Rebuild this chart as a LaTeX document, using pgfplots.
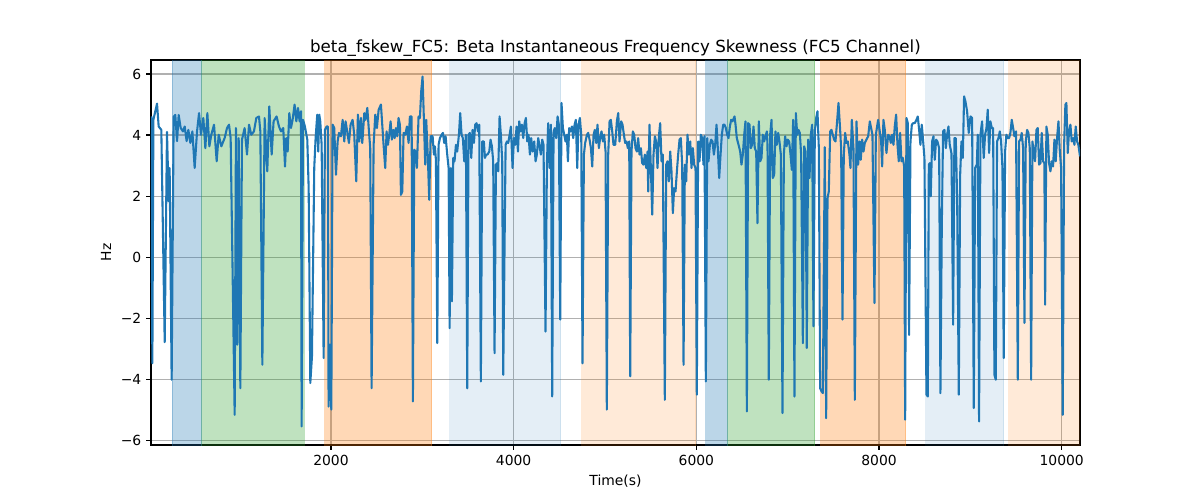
\documentclass[border=0pt]{standalone}
\usepackage{pgfplots}
\pgfplotsset{compat=1.18}
\usepackage{pgfplotstable}
\usepackage{fontspec}
\setmainfont{DejaVu Sans}
\definecolor{tabblue}{RGB}{31,119,180}
\definecolor{tabgreen}{RGB}{44,160,44}
\definecolor{taborange}{RGB}{255,127,14}
\definecolor{gridgray}{RGB}{176,176,176}
\pgfplotstableread{
x y
34 4.61
45 -3.48
56 4.5
96 5.03
114 4.28
143 4.17
180 -2.79
205 4.1
224 1.83
234 2.92
256 -4.02
278 4.6
296 4.66
315 3.8
333 4.66
355 4.23
380 4.12
399 4.28
420 3.8
439 4.17
461 3.74
483 4.12
508 2.92
534 4.12
556 4.72
577 4.01
603 4.56
625 3.57
647 4.72
669 3.63
690 4.01
720 4.34
749 3.14
771 4.01
800 3.63
836 3.9
862 4.23
884 4.34
902 3.9
946 -5.17
960 4.23
975 -2.87
990 3.9
1008 -4.3
1026 3.85
1055 4.23
1081 3.36
1103 4.34
1128 4.01
1157 4.12
1183 4.56
1212 4.61
1227 4.12
1249 -3.53
1274 4.56
1303 2.81
1325 4.94
1351 3.36
1372 4.45
1405 4.61
1431 4.28
1453 4.12
1478 4.23
1497 2.97
1511 3.9
1526 3.46
1544 4.72
1562 4.23
1580 4.5
1602 5.0
1621 4.45
1639 4.89
1657 4.45
1672 4.78
1679 -5.55
1694 4.5
1715 4.28
1741 3.85
1756 2.26
1774 -4.13
1792 -3.26
1817 2.92
1832 3.9
1850 4.67
1861 3.46
1872 4.67
1883 4.45
1898 3.68
1920 -3.31
1934 4.17
1953 4.28
1967 4.28
1974 -4.9
1989 -2.87
2004 -5.0
2018 4.34
2036 4.23
2055 2.7
2073 3.79
2088 4.07
2109 3.96
2128 4.5
2146 3.79
2160 4.45
2175 4.17
2197 3.74
2215 4.34
2237 4.5
2255 4.01
2277 2.48
2295 4.67
2310 3.79
2328 4.56
2343 3.74
2365 4.72
2379 4.5
2398 4.89
2416 4.12
2430 3.57
2445 -4.3
2467 3.68
2485 4.67
2503 4.23
2522 4.83
2547 5.0
2576 3.68
2594 2.92
2609 4.12
2624 3.68
2638 4.01
2653 4.45
2667 3.85
2682 4.17
2697 3.9
2711 4.23
2726 3.96
2740 4.56
2755 4.34
2766 2.04
2781 2.15
2795 4.07
2813 4.01
2832 4.28
2850 3.74
2864 4.61
2883 4.61
2897 -4.73
2912 3.52
2926 3.46
2941 2.92
2959 4.61
2974 4.56
2988 5.43
3003 5.92
3018 4.45
3032 3.03
3043 4.5
3061 3.25
3076 1.88
3091 3.96
3113 3.96
3127 3.36
3138 3.63
3149 3.19
3164 -2.82
3178 3.68
3193 3.9
3211 4.01
3226 4.07
3240 3.74
3255 3.96
3273 3.36
3288 2.92
3299 -2.33
3313 2.92
3324 -1.45
3339 3.25
3353 3.14
3368 3.68
3382 3.46
3401 4.01
3415 4.72
3430 4.01
3444 3.9
3459 3.14
3477 4.01
3492 -4.3
3506 4.01
3521 4.07
3536 3.25
3550 4.17
3565 3.74
3579 4.34
3594 4.39
3609 4.12
3623 4.34
3641 -4.08
3656 3.79
3674 3.79
3685 3.25
3700 3.36
3714 3.36
3733 3.46
3747 3.85
3762 3.63
3776 3.14
3791 -3.15
3806 3.03
3820 3.08
3831 2.81
3846 4.61
3860 4.01
3875 3.14
3886 -3.86
3912 3.68
3926 3.79
3941 3.74
3959 4.07
3970 4.28
3988 2.92
4003 3.9
4017 3.68
4032 4.28
4047 3.46
4061 4.45
4076 4.12
4090 4.34
4105 3.9
4120 4.39
4134 4.56
4149 3.79
4163 4.01
4178 3.36
4192 3.9
4207 3.46
4225 3.79
4240 3.14
4254 3.36
4269 3.9
4284 3.63
4298 3.36
4313 3.85
4327 3.68
4349 -2.44
4364 3.03
4378 4.39
4393 2.92
4408 4.34
4422 -4.57
4437 4.12
4451 4.23
4466 3.9
4481 4.61
4495 4.34
4510 -2.05
4524 5.05
4539 4.23
4554 4.01
4568 3.79
4583 4.01
4594 3.14
4608 4.23
4623 4.12
4638 4.28
4652 3.9
4667 4.34
4681 4.5
4696 2.92
4710 4.34
4725 4.56
4740 4.01
4754 -3.48
4769 3.36
4783 3.74
4802 4.01
4816 4.07
4831 3.85
4846 3.57
4860 2.97
4875 4.01
4889 4.17
4904 3.74
4918 4.34
4933 3.57
4947 3.9
4962 4.12
4977 3.79
4991 4.01
5006 3.46
5020 -5.0
5035 3.36
5050 4.45
5064 4.5
5079 4.12
5093 3.68
5112 3.68
5130 4.45
5145 4.72
5159 3.79
5177 4.45
5192 4.34
5207 4.01
5221 3.74
5236 3.79
5250 3.57
5265 3.79
5276 -3.91
5290 3.46
5305 4.12
5320 4.01
5334 3.57
5349 3.46
5363 3.9
5378 3.36
5393 3.57
5407 3.08
5422 3.03
5436 3.36
5451 2.92
5466 3.46
5473 2.15
5487 4.34
5502 2.92
5517 1.39
5531 3.36
5546 3.96
5560 3.79
5575 2.92
5590 3.96
5604 4.39
5619 3.14
5633 3.36
5655 -4.68
5670 3.03
5684 3.14
5699 2.48
5714 3.46
5728 2.81
5743 1.44
5757 2.26
5772 2.15
5787 2.81
5801 3.36
5816 3.85
5830 3.9
5845 3.03
5860 -3.53
5874 3.03
5889 2.48
5903 4.01
5918 3.36
5933 3.79
5947 2.92
5962 3.57
5976 3.03
5991 2.92
6005 -4.51
6020 3.79
6035 3.14
6049 4.01
6064 3.9
6078 3.03
6089 3.96
6104 -4.08
6119 3.9
6133 3.14
6148 3.68
6162 3.85
6177 3.79
6192 3.36
6206 3.68
6221 4.34
6235 3.57
6250 2.59
6265 3.36
6279 4.01
6294 4.34
6308 4.34
6323 4.23
6338 4.01
6352 3.9
6367 4.28
6381 4.5
6396 4.45
6418 4.61
6429 4.34
6443 3.9
6462 3.68
6480 3.46
6494 3.03
6509 3.36
6524 4.01
6538 4.45
6553 -5.06
6567 4.39
6582 4.34
6596 3.57
6611 3.68
6626 4.28
6640 3.57
6655 3.46
6669 1.11
6684 4.45
6699 3.14
6713 3.25
6728 4.01
6742 3.79
6757 3.96
6772 4.12
6779 3.68
6793 -4.02
6808 4.01
6823 4.5
6837 2.59
6852 2.7
6866 4.12
6881 3.68
6896 4.07
6910 3.79
6925 3.36
6943 -5.11
6958 3.36
6972 3.96
6987 3.63
7001 3.85
7016 3.79
7031 3.36
7045 2.86
7060 4.5
7074 -4.57
7089 4.72
7104 4.01
7118 4.17
7133 4.07
7147 3.36
7166 -2.82
7180 3.63
7195 3.46
7209 -2.98
7224 3.85
7239 2.59
7253 4.01
7268 4.34
7282 -2.27
7297 4.12
7312 4.56
7326 4.78
7341 3.57
7355 -4.3
7370 -4.4
7385 -4.46
7406 3.6
7421 -5.28
7436 1.93
7450 2.15
7465 4.12
7479 4.17
7494 4.01
7508 3.85
7523 3.79
7541 4.45
7556 5.05
7571 4.34
7585 3.57
7600 -2.05
7614 3.36
7629 4.07
7643 3.74
7658 3.79
7676 3.36
7687 2.92
7702 4.5
7720 3.57
7735 -4.68
7753 4.45
7771 3.03
7789 3.79
7800 3.19
7815 3.85
7830 3.46
7844 3.74
7862 3.85
7881 3.96
7899 4.45
7913 4.23
7928 4.01
7950 -1.51
7965 4.01
7990 4.5
8008 4.12
8023 3.79
8034 2.97
8048 4.5
8063 4.17
8081 3.41
8100 4.01
8114 3.96
8129 3.74
8143 4.01
8158 3.68
8172 4.28
8187 4.67
8202 3.68
8216 3.14
8231 4.07
8245 3.14
8260 3.25
8275 2.97
8286 -5.33
8300 4.56
8315 4.39
8329 -2.55
8344 3.79
8359 4.34
8373 4.39
8391 4.39
8410 4.5
8424 4.61
8439 4.17
8453 3.68
8468 4.34
8483 3.79
8497 3.25
8519 -4.51
8534 -4.57
8545 3.03
8555 3.08
8566 1.99
8581 3.79
8596 3.96
8610 3.19
8625 3.85
8639 3.79
8658 3.57
8672 -4.46
8687 1.0
8701 4.12
8716 4.17
8731 3.57
8745 4.01
8760 4.28
8774 3.68
8793 3.4
8811 -2.22
8825 3.9
8840 3.9
8855 1.93
8873 -4.51
8888 2.7
8902 3.79
8917 3.25
8931 5.27
8946 5.1
8964 4.78
8982 4.07
9001 4.61
9019 4.56
9037 -4.95
9052 2.92
9070 3.03
9081 4.01
9095 -5.39
9110 4.01
9128 4.45
9146 3.25
9161 4.01
9176 4.23
9190 4.83
9205 3.41
9219 4.45
9234 4.23
9249 4.23
9263 -3.86
9278 -4.02
9292 3.79
9307 3.9
9322 4.12
9336 3.79
9351 2.92
9365 -3.31
9380 3.46
9394 4.01
9409 3.9
9424 3.9
9438 4.07
9453 4.5
9468 4.23
9482 3.96
9500 4.12
9519 -4.02
9533 3.79
9548 3.85
9562 4.07
9577 3.57
9592 -2.16
9606 3.79
9621 4.17
9635 4.07
9650 3.57
9665 -4.02
9679 3.79
9694 3.46
9708 3.14
9723 4.17
9737 4.23
9752 3.03
9767 3.08
9781 4.07
9796 3.14
9810 3.08
9818 -1.56
9832 4.28
9847 4.01
9861 3.08
9876 2.81
9891 3.14
9905 2.97
9920 3.85
9934 3.14
9949 3.9
9964 4.45
9978 3.52
9993 2.92
10011 -5.17
10026 3.68
10040 5.0
10051 5.05
10066 3.41
10080 4.12
10095 4.34
10109 3.79
10124 3.9
10139 3.68
10153 4.28
10168 3.79
10182 3.68
10200 3.3
}\datatable
\begin{document}
\begin{tikzpicture}
\path[use as bounding box] (-108.72pt,-39.6pt) rectangle (755.28pt,320.4pt);
\begin{axis}[
  scale only axis, width=668.88pt, height=277.2pt,
  at={(0pt,0pt)}, anchor=south west,
  xmin=30, xmax=10200, ymin=-6.16, ymax=6.46,
  scaled x ticks=false, scaled y ticks=false,
  xtick={2000,4000,6000,8000,10000},
  xticklabels={2000,4000,6000,8000,10000},
  ytick={-6,-4,-2,0,2,4,6},
  yticklabels={−6,−4,−2,0,2,4,6},
  tick align=outside, major tick length=3.5pt,
  xtick pos=left, ytick pos=left,
  tick style={black, line width=0.8pt},
  axis line style={line width=0.8pt},
  grid=major, grid style={color=gridgray, line width=0.8pt},
  ticklabel style={font=\fontsize{10}{12}\selectfont},
  title={beta\_fskew\_FC5: Beta Instantaneous Frequency Skewness (FC5 Channel)},
  title style={font=\fontsize{12}{14}\selectfont, yshift=-7pt},
  xlabel={Time(s)}, ylabel={Hz},
  label style={font=\fontsize{10}{12}\selectfont},
]
\addplot[fill=tabblue, fill opacity=0.3, draw=tabblue, draw opacity=0.3, line width=0.7pt] coordinates {(260,-7) (260,7) (588,7) (588,-7)};
\addplot[fill=tabgreen, fill opacity=0.3, draw=tabgreen, draw opacity=0.3, line width=0.7pt] coordinates {(588,-7) (588,7) (1705,7) (1705,-7)};
\addplot[fill=taborange, fill opacity=0.3, draw=taborange, draw opacity=0.3, line width=0.7pt] coordinates {(1933,-7) (1933,7) (3104,7) (3104,-7)};
\addplot[fill=tabblue, fill opacity=0.12, draw=tabblue, draw opacity=0.12, line width=0.7pt] coordinates {(3301,-7) (3301,7) (4516,7) (4516,-7)};
\addplot[fill=taborange, fill opacity=0.16, draw=taborange, draw opacity=0.16, line width=0.7pt] coordinates {(4746,-7) (4746,7) (5993,7) (5993,-7)};
\addplot[fill=tabblue, fill opacity=0.3, draw=tabblue, draw opacity=0.3, line width=0.7pt] coordinates {(6103,-7) (6103,7) (6344,7) (6344,-7)};
\addplot[fill=tabgreen, fill opacity=0.3, draw=tabgreen, draw opacity=0.3, line width=0.7pt] coordinates {(6344,-7) (6344,7) (7297,7) (7297,-7)};
\addplot[fill=taborange, fill opacity=0.3, draw=taborange, draw opacity=0.3, line width=0.7pt] coordinates {(7363,-7) (7363,7) (8293,7) (8293,-7)};
\addplot[fill=tabblue, fill opacity=0.12, draw=tabblue, draw opacity=0.12, line width=0.7pt] coordinates {(8512,-7) (8512,7) (9366,7) (9366,-7)};
\addplot[fill=taborange, fill opacity=0.16, draw=taborange, draw opacity=0.16, line width=0.7pt] coordinates {(9421,-7) (9421,7) (10300,7) (10300,-7)};
\addplot[tabblue, line width=1.5pt, mark=none, line join=round] table[x=x,y=y] {\datatable};
\end{axis}
\end{tikzpicture}
\end{document}
